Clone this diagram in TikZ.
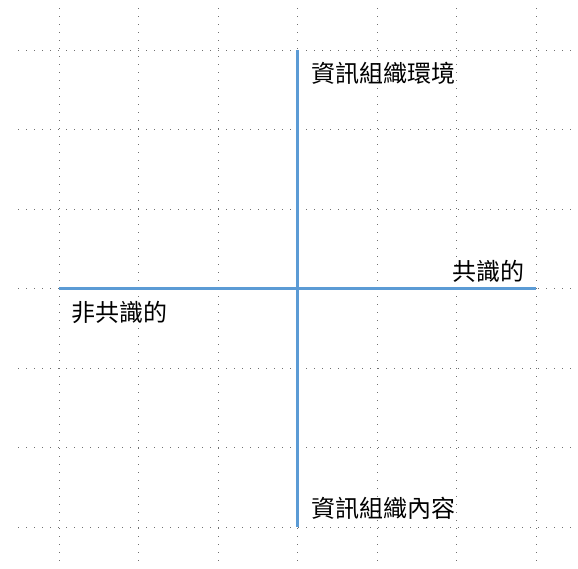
\documentclass[tikz,border=0pt]{standalone}
\usepackage{fontspec}
\newfontfamily\cjkfont{Noto Sans CJK TC}
\definecolor{axisblue}{HTML}{5B9BD5}
\definecolor{dotgray}{HTML}{707070}
\begin{document}
\begin{tikzpicture}[x=1pt,y=-1pt,
  gridline/.style={draw=dotgray,line width=1pt,dash pattern=on 1pt off 7pt},
  axis/.style={draw=axisblue,line width=2.2pt},
  lbl/.style={font=\cjkfont\fontsize{24}{24}\selectfont,inner sep=0pt,anchor=west}]
\useasboundingbox (0,0) rectangle (578,568);
% dotted grid
\foreach \i in {0,...,6}{
  \draw[gridline] (59+79.5*\i,8) -- (59+79.5*\i,568);
  \draw[gridline] (18,50+79.5*\i) -- (578,50+79.5*\i);
}
% axes
\coordinate (top) at (297.5,50);
\coordinate (bottom) at (297.5,527);
\coordinate (left) at (59,288.5);
\coordinate (right) at (536,288.5);
\draw[axis] (top) -- (bottom);
\draw[axis] (left) -- (right);
% labels
\node[lbl] (env) at (311,73) {資訊組織環境};
\node[lbl] (cons) at (452,271) {共識的};
\node[lbl] (noncons) at (71,312) {非共識的};
\node[lbl] (content) at (311,508) {資訊組織內容};
\end{tikzpicture}
\end{document}
